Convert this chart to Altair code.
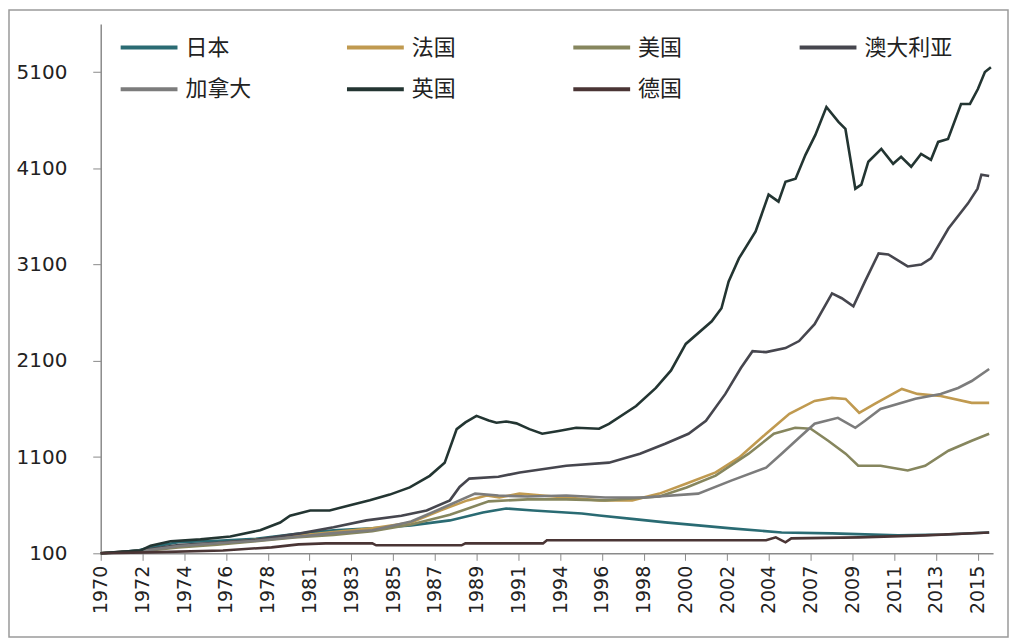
import altair as alt
import pandas as pd

# ---------------- data (index, 1970 = 100) ----------------
names = ["日本", "法国", "美国", "澳大利亚", "加拿大", "英国", "德国"]
colors = ["#2a6b73", "#c09a50", "#86865e", "#46464e", "#7c7c7c", "#233532", "#4a3535"]

jp_year = [1970, 1971, 1972, 1973, 1974, 1976, 1978, 1980, 1982, 1984, 1986, 1988, 1989.7, 1990.9, 1992.3, 1994.8, 1995.7, 1997.5, 1999.1, 2000.8, 2002.5, 2005.1, 2007.7, 2011.1, 2013.5, 2015.8]
jp_val = [100, 110, 135, 180, 215, 230, 250, 300, 340, 360, 390, 442, 524, 566, 545, 514, 493, 455, 421, 390, 359, 317, 307, 286, 295, 317]

fr_year = [1970, 1972, 1974, 1976, 1978, 1980, 1982, 1984, 1986, 1987.5, 1988.9, 1989.9, 1990.55, 1991.58, 1994.0, 1995.7, 1997.4, 1998.8, 2000.2, 2001.7, 2002.9, 2004.3, 2005.5, 2006.8, 2007.7, 2008.4, 2009.1, 2009.9, 2011.3, 2012.1, 2013.3, 2014.9, 2015.8]
fr_val = [100, 125, 170, 205, 240, 280, 320, 360, 420, 545, 650, 700, 680, 720, 680, 650, 650, 720, 825, 940, 1094, 1342, 1550, 1683, 1715, 1704, 1560, 1653, 1808, 1756, 1735, 1663, 1663]

us_year = [1970, 1972, 1974, 1976, 1978, 1980, 1982, 1984, 1986, 1988, 1990, 1992, 1994, 1996, 1998.8, 2000.2, 2001.7, 2003.4, 2004.7, 2005.8, 2006.6, 2007.5, 2008.4, 2009.05, 2010.2, 2011.6, 2012.5, 2013.7, 2014.9, 2015.8]
us_val = [100, 120, 160, 190, 225, 265, 290, 330, 400, 500, 640, 660, 660, 650, 690, 783, 907, 1135, 1342, 1404, 1394, 1270, 1135, 1010, 1010, 960, 1010, 1166, 1270, 1342]

au_year = [1970, 1972, 1974, 1976, 1978, 1980.3, 1982, 1983.7, 1985.5, 1986.8, 1988.0, 1988.5, 1989.0, 1990.5, 1991.6, 1994.0, 1996.2, 1997.8, 1999.1, 2000.3, 2001.2, 2002.2, 2003.0, 2003.6, 2004.3, 2005.3, 2006.0, 2006.8, 2007.7, 2008.2, 2008.8, 2009.4, 2010.1, 2010.6, 2011.6, 2012.3, 2012.8, 2013.7, 2014.7, 2015.2, 2015.4, 2015.8]
au_val = [100, 130, 185, 210, 240, 307, 370, 442, 490, 545, 650, 790, 876, 895, 940, 1010, 1042, 1135, 1238, 1342, 1477, 1756, 2025, 2200, 2190, 2232, 2305, 2480, 2800, 2750, 2667, 2925, 3215, 3205, 3080, 3100, 3164, 3474, 3733, 3888, 4033, 4020]

ca_year = [1970, 1972, 1974, 1976, 1978, 1980, 1982, 1984, 1986, 1987.5, 1989.3, 1990.5, 1992, 1994, 1996, 1998, 2000.8, 2002.5, 2004.3, 2005.1, 2006.0, 2006.8, 2008.0, 2008.9, 2009.4, 2010.2, 2012.0, 2013.3, 2014.2, 2014.9, 2015.8]
ca_val = [100, 120, 175, 205, 230, 270, 310, 340, 430, 560, 720, 700, 690, 700, 680, 680, 720, 855, 990, 1135, 1300, 1446, 1508, 1404, 1477, 1600, 1705, 1756, 1818, 1890, 2015]

uk_year = [1970, 1971, 1972.06, 1972.57, 1973.6, 1975.14, 1976.68, 1978.22, 1979.25, 1979.76, 1980.8, 1981.8, 1982.85, 1983.87, 1984.9, 1985.93, 1986.96, 1987.73, 1988.35, 1988.8, 1989.37, 1990.0, 1990.4, 1990.9, 1991.43, 1992.1, 1992.76, 1993.6, 1994.51, 1995.69, 1996.2, 1997.6, 1998.62, 1999.4, 2000.16, 2001.5, 2002.0, 2002.37, 2002.9, 2003.76, 2004.43, 2004.94, 2005.3, 2005.82, 2006.33, 2006.84, 2007.41, 2008.03, 2008.39, 2008.9, 2009.21, 2009.57, 2010.24, 2010.85, 2011.26, 2011.78, 2012.29, 2012.8, 2013.17, 2013.68, 2014.35, 2014.81, 2015.22, 2015.58, 2015.89]
uk_val = [100, 115, 130, 180, 225, 245, 275, 340, 420, 490, 545, 545, 600, 650, 710, 785, 905, 1040, 1390, 1460, 1528, 1480, 1456, 1470, 1450, 1390, 1342, 1370, 1404, 1394, 1445, 1630, 1818, 2000, 2275, 2510, 2646, 2925, 3164, 3443, 3826, 3754, 3960, 3992, 4240, 4447, 4737, 4582, 4509, 3888, 3930, 4168, 4302, 4147, 4220, 4116, 4250, 4188, 4374, 4405, 4768, 4768, 4923, 5100, 5150]

de_year = [1970, 1972.4, 1976.3, 1978.8, 1980.2, 1981.6, 1984.0, 1984.2, 1988.6, 1988.8, 1992.8, 1993.0, 2004.3, 2004.8, 2005.3, 2005.6, 2009.1, 2012.5, 2015.8]
de_val = [100, 110, 130, 162, 193, 203, 203, 183, 183, 203, 203, 235, 235, 266, 214, 255, 266, 286, 317]

x_tick_labels = ["1970", "1972", "1974", "1976", "1978", "1981", "1983", "1985", "1987", "1989", "1991",
                 "1994", "1996", "1998", "2000", "2002", "2004", "2007", "2009", "2011", "2013", "2015"]
y_ticks = [100, 1100, 2100, 3100, 4100, 5100]

# ---------------- build table ----------------
series = [
    ("日本", jp_year, jp_val), ("法国", fr_year, fr_val), ("美国", us_year, us_val),
    ("澳大利亚", au_year, au_val), ("加拿大", ca_year, ca_val), ("英国", uk_year, uk_val),
    ("德国", de_year, de_val),
]
rows = []
for order, (name, ys, vs) in enumerate(series):
    for i, (yr, v) in enumerate(zip(ys, vs)):
        rows.append({"country": name, "year": yr, "value": v, "i": i, "o": order})
df = pd.DataFrame(rows)

step = 2.153
x_tick_values = [round(1970 + k * step, 4) for k in range(len(x_tick_labels))]
label_arr = "[" + ",".join("'" + s + "'" for s in x_tick_labels) + "]"
label_expr = label_arr + "[round((datum.value - 1970) / " + str(step) + ")]"

W, H = 895, 531

lines = alt.Chart(df).mark_line(strokeWidth=2.6, interpolate="linear").encode(
    x=alt.X("year:Q",
            scale=alt.Scale(domain=[1970, 2016], nice=False, zero=False),
            axis=alt.Axis(values=x_tick_values, labelExpr=label_expr, labelAngle=-90,
                          title=None, grid=False, domainColor="#8a8a8a", tickColor="#8a8a8a",
                          tickSize=7, labelPadding=5, labelFont="DejaVu Sans", labelFontSize=19,
                          labelColor="#222222", domainWidth=1.5)),
    y=alt.Y("value:Q",
            scale=alt.Scale(domain=[100, 5600], nice=False, zero=False),
            axis=alt.Axis(values=y_ticks, format="d", title=None, grid=False,
                          domainColor="#8a8a8a", tickColor="#8a8a8a", tickSize=8,
                          labelPadding=26, labelFont="DejaVu Sans", labelFontSize=20,
                          labelColor="#222222", domainWidth=1.5)),
    color=alt.Color("country:N",
                    scale=alt.Scale(domain=names, range=colors),
                    legend=alt.Legend(title=None, orient="none", legendX=18, legendY=-7,
                                      direction="horizontal",
                                      columns=4, gridAlign="all", columnPadding=65,
                                      rowPadding=0, symbolType="stroke", symbolSize=3249,
                                      symbolStrokeWidth=4, labelFont="Noto Sans CJK SC",
                                      labelFontSize=22, labelColor="#222222", labelOffset=6,
                                      padding=0)),
    order=alt.Order("i:Q"),
    detail="country:N",
)

frame = alt.Chart(pd.DataFrame({"k": [0]})).mark_rect(
    filled=False, stroke="#9a9a9a", strokeWidth=1.5
).encode(x=alt.value(-92), x2=alt.value(910), y=alt.value(-14), y2=alt.value(615))

chart = alt.layer(frame, lines).properties(width=W, height=H, padding=0).configure_view(stroke=None)

chart.save("out.html", embed_options={"renderer": "svg", "actions": False})
